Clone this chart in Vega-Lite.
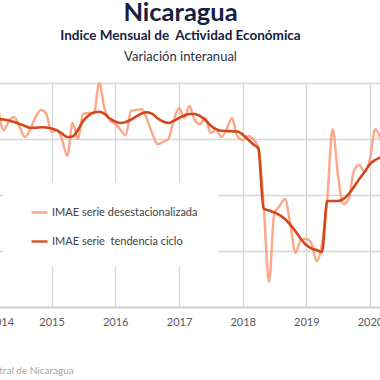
{
  "$schema": "https://vega.github.io/schema/vega-lite/v6.json",
  "width": 403,
  "height": 224,
  "autosize": {"type": "none"},
  "padding": {"left": -12, "right": -11, "top": 83, "bottom": 73},
  "background": "white",
  "title": {
    "text": "Nicaragua",
    "subtitle": "Indice Mensual de \u00a0Actividad Económica",
    "anchor": "middle",
    "dx": -9,
    "offset": 8,
    "font": "Lato",
    "fontSize": 25.5,
    "fontWeight": "bold",
    "color": "#14213f",
    "subtitleFont": "Lato",
    "subtitleFontSize": 13.5,
    "subtitleFontWeight": "bold",
    "subtitleColor": "#14213f",
    "subtitlePadding": 2
  },
  "config": {
    "view": {"stroke": null},
    "axis": {"labelFont": "Lato", "titleFont": "Lato"},
    "legend": {"labelFont": "Lato"}
  },
  "data": {
    "values": [
      {"fecha": "2014-03-01", "desest": 4.14, "tendencia": 3.43},
      {"fecha": "2014-04-01", "desest": 2.64, "tendencia": 3.39},
      {"fecha": "2014-05-01", "desest": 3.29, "tendencia": 3.32},
      {"fecha": "2014-06-01", "desest": 3.57, "tendencia": 3.21},
      {"fecha": "2014-07-01", "desest": 2.86, "tendencia": 3.07},
      {"fecha": "2014-08-01", "desest": 2.14, "tendencia": 2.93},
      {"fecha": "2014-09-01", "desest": 2.71, "tendencia": 2.8},
      {"fecha": "2014-10-01", "desest": 3.57, "tendencia": 2.8},
      {"fecha": "2014-11-01", "desest": 4.07, "tendencia": 2.84},
      {"fecha": "2014-12-01", "desest": 3.79, "tendencia": 2.82},
      {"fecha": "2015-01-01", "desest": 2.5, "tendencia": 2.75},
      {"fecha": "2015-02-01", "desest": 2.64, "tendencia": 2.61},
      {"fecha": "2015-03-01", "desest": 2.0, "tendencia": 2.39},
      {"fecha": "2015-04-01", "desest": 0.79, "tendencia": 2.14},
      {"fecha": "2015-05-01", "desest": 3.14, "tendencia": 2.18},
      {"fecha": "2015-06-01", "desest": 2.0, "tendencia": 2.64},
      {"fecha": "2015-07-01", "desest": 3.79, "tendencia": 3.29},
      {"fecha": "2015-08-01", "desest": 3.86, "tendencia": 3.68},
      {"fecha": "2015-09-01", "desest": 3.86, "tendencia": 3.89},
      {"fecha": "2015-10-01", "desest": 6.0, "tendencia": 3.95},
      {"fecha": "2015-11-01", "desest": 4.14, "tendencia": 3.79},
      {"fecha": "2015-12-01", "desest": 3.36, "tendencia": 3.46},
      {"fecha": "2016-01-01", "desest": 3.07, "tendencia": 3.25},
      {"fecha": "2016-02-01", "desest": 2.64, "tendencia": 3.14},
      {"fecha": "2016-03-01", "desest": 2.29, "tendencia": 3.21},
      {"fecha": "2016-04-01", "desest": 4.0, "tendencia": 3.39},
      {"fecha": "2016-05-01", "desest": 4.07, "tendencia": 3.61},
      {"fecha": "2016-06-01", "desest": 4.14, "tendencia": 3.82},
      {"fecha": "2016-07-01", "desest": 3.43, "tendencia": 3.91},
      {"fecha": "2016-08-01", "desest": 2.36, "tendencia": 3.79},
      {"fecha": "2016-09-01", "desest": 1.64, "tendencia": 3.46},
      {"fecha": "2016-10-01", "desest": 1.79, "tendencia": 3.25},
      {"fecha": "2016-11-01", "desest": 2.0, "tendencia": 3.14},
      {"fecha": "2016-12-01", "desest": 3.29, "tendencia": 3.29},
      {"fecha": "2017-01-01", "desest": 4.21, "tendencia": 3.5},
      {"fecha": "2017-02-01", "desest": 3.5, "tendencia": 3.68},
      {"fecha": "2017-03-01", "desest": 4.36, "tendencia": 3.79},
      {"fecha": "2017-04-01", "desest": 3.36, "tendencia": 3.79},
      {"fecha": "2017-05-01", "desest": 3.07, "tendencia": 3.64},
      {"fecha": "2017-06-01", "desest": 3.5, "tendencia": 3.36},
      {"fecha": "2017-07-01", "desest": 2.43, "tendencia": 2.96},
      {"fecha": "2017-08-01", "desest": 2.64, "tendencia": 2.71},
      {"fecha": "2017-09-01", "desest": 2.14, "tendencia": 2.59},
      {"fecha": "2017-10-01", "desest": 2.71, "tendencia": 2.57},
      {"fecha": "2017-11-01", "desest": 3.5, "tendencia": 2.55},
      {"fecha": "2017-12-01", "desest": 2.21, "tendencia": 2.54},
      {"fecha": "2018-01-01", "desest": 1.93, "tendencia": 2.32},
      {"fecha": "2018-02-01", "desest": 2.21, "tendencia": 1.96},
      {"fecha": "2018-03-01", "desest": 2.0, "tendencia": 1.64},
      {"fecha": "2018-04-01", "desest": 1.43, "tendencia": 1.32},
      {"fecha": "2018-05-01", "desest": -2.64, "tendencia": -2.96},
      {"fecha": "2018-06-01", "desest": -8.21, "tendencia": -3.11},
      {"fecha": "2018-07-01", "desest": -3.36, "tendencia": -3.24},
      {"fecha": "2018-08-01", "desest": -2.79, "tendencia": -3.43},
      {"fecha": "2018-09-01", "desest": -2.29, "tendencia": -3.71},
      {"fecha": "2018-10-01", "desest": -4.07, "tendencia": -4.11},
      {"fecha": "2018-11-01", "desest": -6.14, "tendencia": -4.61},
      {"fecha": "2018-12-01", "desest": -5.21, "tendencia": -5.14},
      {"fecha": "2019-01-01", "desest": -5.14, "tendencia": -5.57},
      {"fecha": "2019-02-01", "desest": -5.5, "tendencia": -5.82},
      {"fecha": "2019-03-01", "desest": -6.71, "tendencia": -5.93},
      {"fecha": "2019-04-01", "desest": -5.5, "tendencia": -6.07},
      {"fecha": "2019-05-01", "desest": -2.29, "tendencia": -2.43},
      {"fecha": "2019-06-01", "desest": 2.71, "tendencia": -2.43},
      {"fecha": "2019-07-01", "desest": -0.5, "tendencia": -2.43},
      {"fecha": "2019-08-01", "desest": -2.64, "tendencia": -2.29},
      {"fecha": "2019-09-01", "desest": -2.29, "tendencia": -1.93},
      {"fecha": "2019-10-01", "desest": -0.29, "tendencia": -1.43},
      {"fecha": "2019-11-01", "desest": 0.14, "tendencia": -0.86},
      {"fecha": "2019-12-01", "desest": -0.36, "tendencia": -0.36},
      {"fecha": "2020-01-01", "desest": 0.57, "tendencia": 0.21},
      {"fecha": "2020-02-01", "desest": 2.71, "tendencia": 0.5},
      {"fecha": "2020-03-01", "desest": 2.0, "tendencia": 0.68}
    ]
  },
  "encoding": {
    "x": {
      "field": "fecha",
      "type": "temporal",
      "scale": {"domain": [{"year": 2014, "month": 1, "date": 1}, {"year": 2020, "month": 5, "date": 1}]},
      "axis": {
        "format": "%Y",
        "tickCount": {"interval": "year", "step": 1},
        "grid": true,
        "gridColor": "#d6d6d6",
        "gridWidth": 1.3,
        "ticks": false,
        "domainColor": "#cfcfcf",
        "domainWidth": 1.3,
        "labelFontSize": 11,
        "labelColor": "#595959",
        "labelPadding": 9,
        "title": "Fuente: Banco Central de Nicaragua",
        "titleX": -72,
        "titleY": 66,
        "titleAlign": "left",
        "titleBaseline": "alphabetic",
        "titleFontSize": 10,
        "titleFontWeight": "normal",
        "titleColor": "#a6a6a6"
      }
    }
  },
  "layer": [
    {
      "mark": {"type": "rule", "color": "#8a8a8a", "strokeWidth": 1.8},
      "encoding": {
        "y": {"datum": 0, "type": "quantitative", "title": "Variación interanual", "scale": {"domain": [-10, 6], "nice": false}}
      }
    },
    {
      "mark": {"type": "line", "interpolate": "monotone", "strokeWidth": 2.5, "opacity": 0.9},
      "encoding": {
        "y": {
          "field": "desest",
          "type": "quantitative",
          "title": "Variación interanual",
          "scale": {"domain": [-10, 6], "nice": false},
          "axis": {
            "values": [-10, -8, -6, -4, -2, 0, 2, 4, 6],
            "labels": false,
            "ticks": false,
            "domain": false,
            "grid": true,
            "gridColor": "#d6d6d6",
            "gridWidth": 1.3,
            "titleAngle": 0,
            "titleX": 192,
            "titleY": -23,
            "titleAlign": "center",
            "titleBaseline": "alphabetic",
            "titleFontSize": 13,
            "titleFontWeight": "normal",
            "titleColor": "#2b2f3f"
          }
        },
        "color": {
          "datum": "IMAE serie desestacionalizada",
          "type": "nominal",
          "scale": {
            "domain": ["IMAE serie desestacionalizada", "IMAE serie \u00a0tendencia ciclo"],
            "range": ["#fca07e", "#d2461c"]
          },
          "legend": {
            "title": null,
            "orient": "none",
            "legendX": 15,
            "legendY": 100,
            "fillColor": "white",
            "padding": 20,
            "symbolOffset": 7,
            "symbolType": "stroke",
            "symbolSize": 256,
            "symbolStrokeWidth": 2.5,
            "labelFontSize": 11,
            "labelColor": "#404040",
            "labelLimit": 0,
            "labelOffset": 3,
            "rowPadding": 14
          }
        }
      }
    },
    {
      "mark": {"type": "line", "interpolate": "monotone", "strokeWidth": 2.6},
      "encoding": {
        "y": {
          "field": "tendencia",
          "type": "quantitative",
          "title": "Variación interanual",
          "scale": {"domain": [-10, 6], "nice": false}
        },
        "color": {"datum": "IMAE serie \u00a0tendencia ciclo", "type": "nominal"}
      }
    }
  ]
}
